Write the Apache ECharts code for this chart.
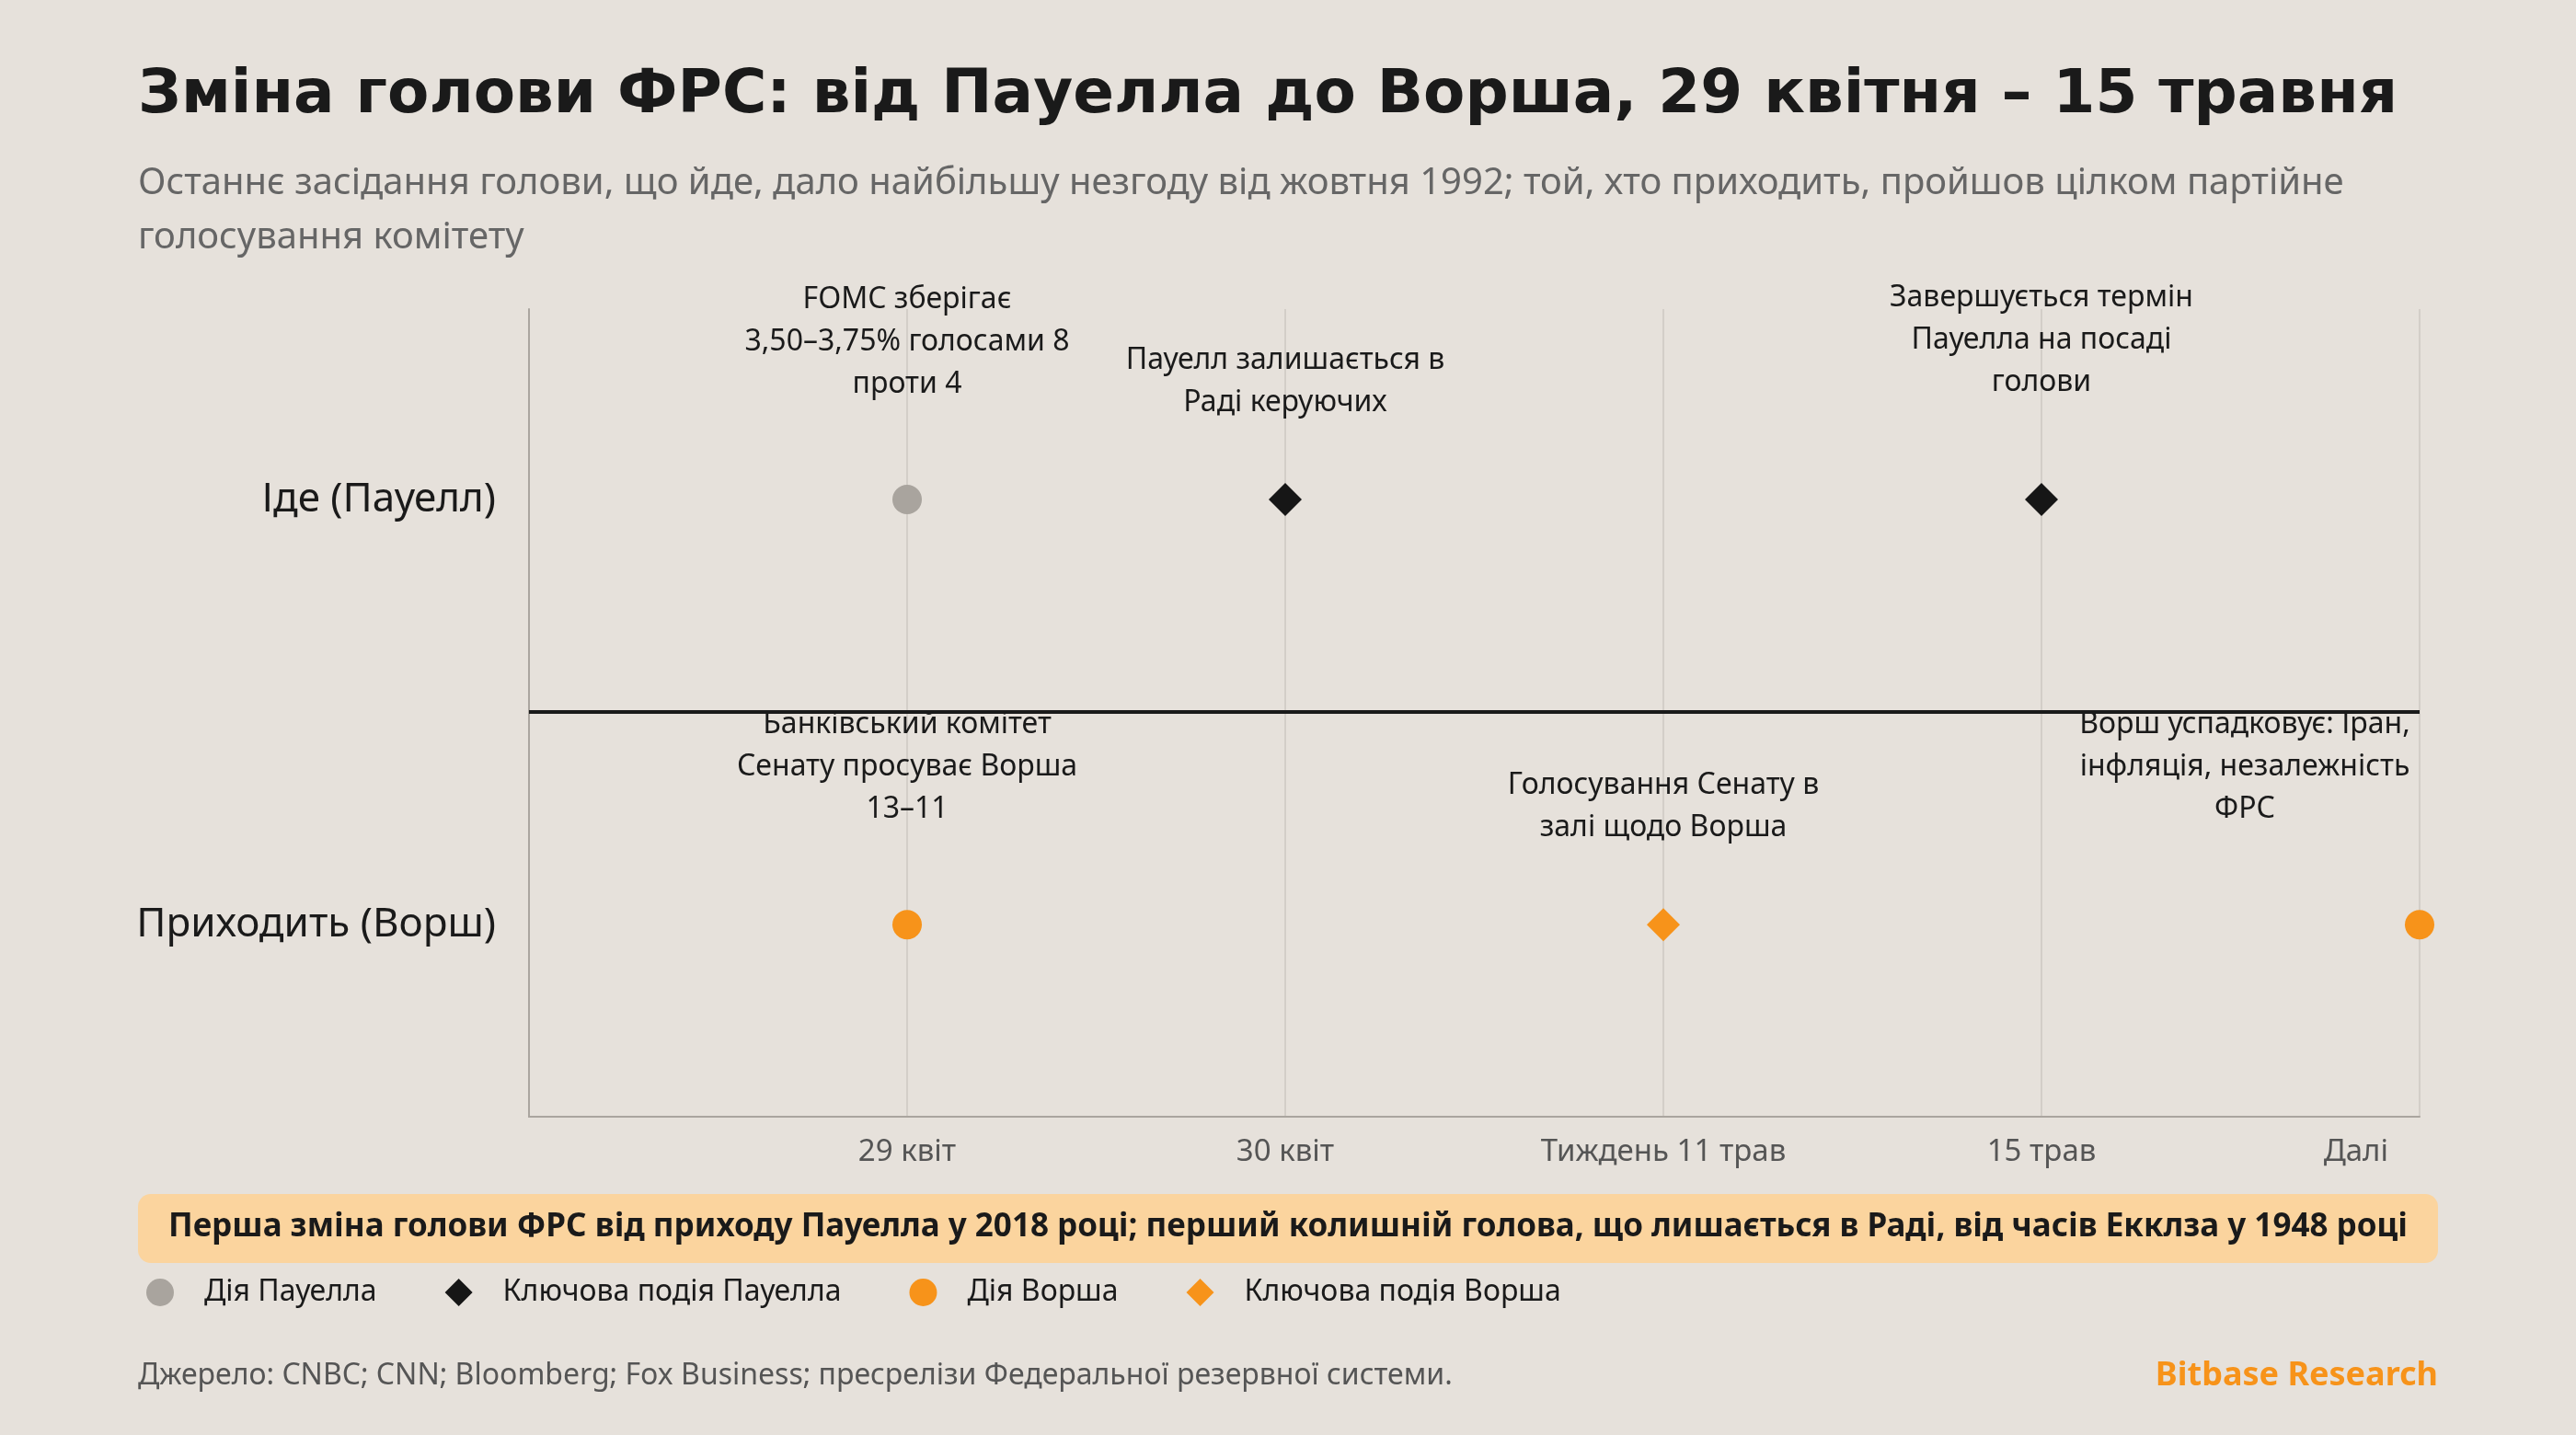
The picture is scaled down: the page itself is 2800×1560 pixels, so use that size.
<!DOCTYPE html>
<html><head><meta charset="utf-8">
<script src="https://cdn.jsdelivr.net/npm/echarts@6/dist/echarts.min.js"></script>
<style>html,body{margin:0;padding:0;background:#e6e1db}#c{width:2800px;height:1560px}</style>
</head><body><div id="c"></div>
<script>
const xLabels = ['', '29 квіт', '30 квіт', 'Тиждень 11 трав', '15 трав', 'Далі'];
const rowLabels = {1: 'Приходить (Ворш)', 3: 'Іде (Пауелл)'};
const powellAction = [[1, 3, 'FOMC зберігає\n3,50–3,75% голосами 8\nпроти 4', 0]];
const powellKey = [[2, 3, 'Пауелл залишається в\nРаді керуючих', 0], [4, 3, 'Завершується термін\nПауелла на посаді\nголови', 0]];
const warshAction = [[1, 1, 'Банківський комітет\nСенату просуває Ворша\n13–11', 0], [5, 1, 'Ворш успадковує: Іран,\nінфляція, незалежність\nФРС', -190]];
const warshKey = [[3, 1, 'Голосування Сенату в\nзалі щодо Ворша', 0]];

const F = 'Noto Sans, sans-serif';
function mk(name, data, symbol, color, size) {
  return {
    name, type: 'scatter', symbol, symbolSize: size, itemStyle: {color, opacity: 1},
    data: data.map(d => ({
      value: [d[0], d[1]],
      label: {show: true, formatter: d[2], position: 'top', distance: d[2].split('\n').length === 3 ? 86 : 64,
        offset: [d[3], 0], color: '#1a1a1a', fontSize: 32, lineHeight: 46, fontFamily: F, align: 'center'}
    })),
    z: 5
  };
}
const chart = echarts.init(document.getElementById('c'));
chart.setOption({
  backgroundColor: '#e6e1db',
  animation: false,
  grid: {left: 575, right: 170, top: 336, bottom: 346},
  xAxis: {type: 'value', min: 0, max: 5, interval: 1,
    axisLine: {show: true, onZero: false, lineStyle: {color: '#aaa59f', width: 2}},
    axisTick: {show: false},
    splitLine: {show: true, lineStyle: {color: '#d3cec8', width: 2}},
    axisLabel: {formatter: v => v === 5 ? '{d|Далі}' : (xLabels[v] || ''), color: '#555', fontSize: 33, fontFamily: F, margin: 22,
      alignMaxLabel: 'right', showMinLabel: false,
      rich: {d: {color: '#555', fontSize: 33, fontFamily: F, padding: [0, 34, 0, 0]}}}},
  yAxis: {type: 'value', min: 0.0965, max: 3.896,
    axisLine: {show: true, lineStyle: {color: '#aaa59f', width: 2}},
    axisTick: {show: false}, splitLine: {show: false},
    axisLabel: {customValues: [1, 3], formatter: v => rowLabels[Math.round(v)] || '', color: '#1a1a1a', fontSize: 44, fontFamily: F, margin: 36},},
  legend: {left: 154, top: 1384, itemWidth: 30, itemHeight: 30, itemGap: 74,
    textStyle: {fontSize: 32, color: '#1a1a1a', fontFamily: F, padding: [0, 0, 0, 28]},
    data: [{name: 'Дія Пауелла', icon: 'circle'}, {name: 'Ключова подія Пауелла', icon: 'diamond'},
           {name: 'Дія Ворша', icon: 'circle'}, {name: 'Ключова подія Ворша', icon: 'diamond'}]},
  series: [
    Object.assign(mk('Дія Пауелла', powellAction, 'circle', '#a9a49e', 32), {
      markLine: {silent: true, symbol: 'none', label: {show: false}, lineStyle: {color: '#1a1a1a', width: 4, type: 'solid'}, data: [{yAxis: 1.996}]}}),
    mk('Ключова подія Пауелла', powellKey, 'diamond', '#161616', 36),
    mk('Дія Ворша', warshAction, 'circle', '#f7931a', 32),
    mk('Ключова подія Ворша', warshKey, 'diamond', '#f7931a', 36)
  ],
  graphic: [
    {type: 'text', left: 150, top: 72, style: {text: 'Зміна голови ФРС: від Пауелла до Ворша, 29 квітня – 15 травня', font: 'bold 66px DejaVu Sans, sans-serif', fill: '#1a1a1a'}},
    {type: 'text', left: 150, top: 170, style: {text: 'Останнє засідання голови, що йде, дало найбільшу незгоду від жовтня 1992; той, хто приходить, пройшов цілком партійне\nголосування комітету', font: '40px Noto Sans, sans-serif', fill: '#666', lineHeight: 59}},
    {type: 'rect', shape: {x: 150, y: 1298, width: 2500, height: 75, r: 14}, style: {fill: '#fbd49e'}},
    {type: 'text', x: 1400, y: 1334, style: {text: 'Перша зміна голови ФРС від приходу Пауелла у 2018 році; перший колишній голова, що лишається в Раді, від часів Екклза у 1948 році', font: 'bold 35px Noto Sans, sans-serif', fill: '#1a1a1a', align: 'center', verticalAlign: 'middle'}},
    {type: 'text', left: 150, top: 1480, style: {text: 'Джерело: CNBC; CNN; Bloomberg; Fox Business; пресрелізи Федеральної резервної системи.', font: '32px Noto Sans, sans-serif', fill: '#555'}},
    {type: 'text', right: 150, top: 1478, style: {text: 'Bitbase Research', font: 'bold 36px Noto Sans, sans-serif', fill: '#f7931a'}}
  ]
});
</script></body></html>
